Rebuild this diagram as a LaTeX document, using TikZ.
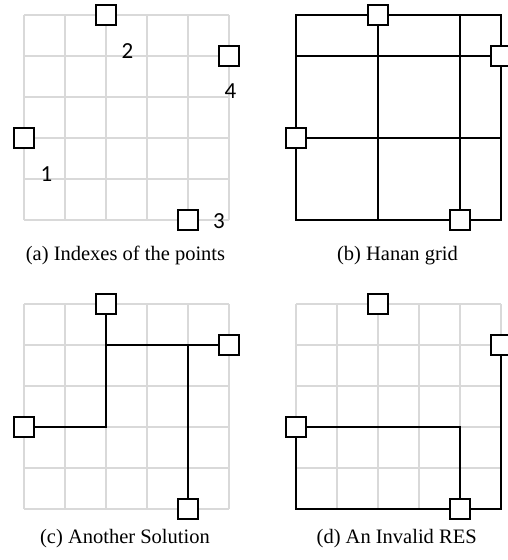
\documentclass[tikz,border=0pt]{standalone}
\usepackage{fontspec}
\setmainfont{Liberation Serif}
\newfontfamily\labfont{Carlito}
\usetikzlibrary{backgrounds}
\definecolor{gridgray}{HTML}{D9D9D9}
\newcommand\graygrid[2]{%
  \foreach \i in {0,...,5} {
    \draw[gridline] (#1+41*\i,#2) -- (#1+41*\i,#2+205);
    \draw[gridline] (#1,#2+41*\i) -- (#1+205,#2+41*\i);
  }}
\begin{document}
\begin{tikzpicture}[x=1pt,y=-1pt,
  pt/.style={draw=black,fill=white,line width=1.3pt,minimum size=20pt,inner sep=0pt},
  gridline/.style={draw=gridgray,line width=1.3pt,line cap=square},
  wire/.style={draw=black,line width=1.5pt},
  captext/.style={anchor=base,inner sep=0pt,font=\fontsize{20.5}{24}\selectfont},
  idx/.style={inner sep=0pt,font=\labfont\fontsize{23}{27}\selectfont}
]
\useasboundingbox (0,0) rectangle (508,560);

% (a) Indexes of the points
\node[pt] (a1) at (24,138) {};
\node[pt] (a2) at (106,15) {};
\node[pt] (a3) at (188,220) {};
\node[pt] (a4) at (229,56) {};
\node[idx] (la1) at (46.5,174) {1};
\node[idx] (la2) at (127.5,51) {2};
\node[idx] (la3) at (219,221.5) {3};
\node[idx] (la4) at (230.5,91) {4};
\node[captext] (capa) at (125.5,260) {(a) Indexes of the points};

% (b) Hanan grid
\node[pt] (b1) at (296,138) {};
\node[pt] (b2) at (378,15) {};
\node[pt] (b3) at (460,220) {};
\node[pt] (b4) at (501,56) {};
\node[captext] (capb) at (397.5,260) {(b) Hanan grid};

% (c) Another Solution
\node[pt] (c1) at (24,427) {};
\node[pt] (c2) at (106,304) {};
\node[pt] (c3) at (188,509) {};
\node[pt] (c4) at (229,345) {};
\draw[wire] (c1) -| (c2);
\draw[wire] (c2) |- (c4);
\draw[wire] (c3) |- (c4);
\node[captext] (capc) at (125,543) {(c) Another Solution};

% (d) An Invalid RES
\node[pt] (d1) at (296,427) {};
\node[pt] (d2) at (378,304) {};
\node[pt] (d3) at (460,509) {};
\node[pt] (d4) at (501,345) {};
\draw[wire] (d1) -| (d3);
\draw[wire] (d1) |- (d3);
\draw[wire] (d4) |- (d3);
\node[captext] (capd) at (396.7,543) {(d) An Invalid RES};

\begin{pgfonlayer}{background}
  \graygrid{24}{15}
  \graygrid{24}{304}
  \graygrid{296}{304}
  \draw[wire] (b1.center |- b2.center) rectangle (b4.center |- b3.center);
  \draw[wire] (b2.center) -- (b2.center |- b3.center);
  \draw[wire] (b3.center) -- (b3.center |- b2.center);
  \draw[wire] (b1.center) -- (b1.center -| b4.center);
  \draw[wire] (b4.center) -- (b4.center -| b1.center);
\end{pgfonlayer}
\end{tikzpicture}
\end{document}
